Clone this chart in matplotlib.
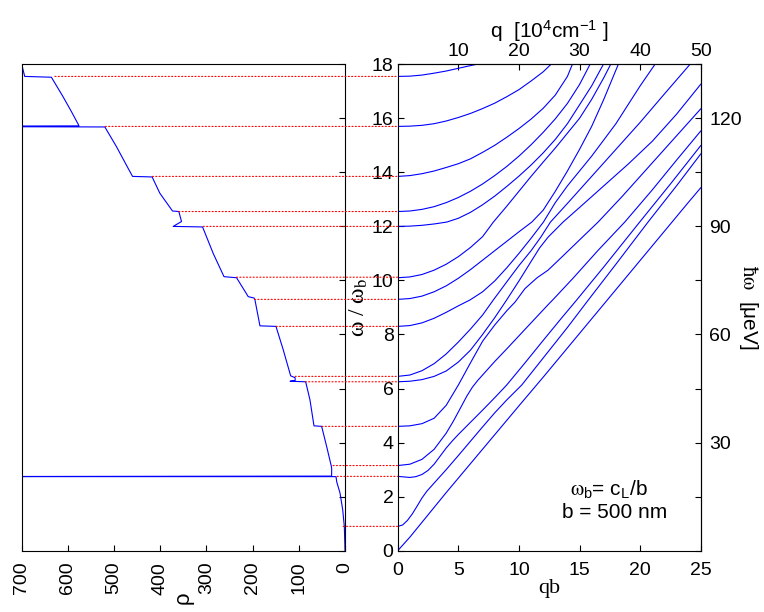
"""Lamb-type mode dispersion (right) with the matching density of states (left)."""

import matplotlib

matplotlib.use("Agg")
import matplotlib.pyplot as plt
from matplotlib.patches import ConnectionPatch

plt.rcParams["font.family"] = ["Liberation Sans", "DejaVu Sans"]
plt.rcParams["mathtext.fontset"] = "stix"
plt.rcParams["mathtext.default"] = "regular"

# --- dispersion branches, (qb, omega/omega_b) ---------------------------------
mode_a = [(0, 0), (1, 0.5), (2, 1.05), (4, 2.15), (6, 3.22), (8, 4.29), (10, 5.36),
          (12, 6.42), (14, 7.5), (16, 8.58), (18, 9.66), (20, 10.74), (22, 11.82),
          (24, 12.9), (25, 13.43)]
mode_b = [(0, 0.9), (0.4, 0.95), (0.8, 1.12), (1.2, 1.36), (1.6, 1.65), (2.0, 1.95),
          (2.4, 2.2), (2.8, 2.4), (3.4, 2.7), (4, 3.0), (5, 3.52), (6, 4.05),
          (7, 4.58), (8, 5.1), (9, 5.58), (10.23, 6.13), (12, 7.13), (14, 8.26),
          (15.73, 9.28), (18, 10.6), (20.65, 12.16), (23, 13.5), (25, 14.68)]
mode_c = [(0, 2.75), (0.5, 2.73), (1.0, 2.71), (1.5, 2.74), (2.0, 2.82), (2.5, 2.97),
          (3.0, 3.2), (3.5, 3.5), (4.0, 3.8), (4.5, 4.06), (5.0, 4.3), (6, 4.75),
          (7, 5.2), (8, 5.66), (8.99, 6.13), (10.5, 6.95), (12, 7.78), (13.5, 8.6),
          (14.77, 9.28), (17, 10.5), (19.96, 12.16), (22.5, 13.57), (25, 14.99)]
mode_d = [(0, 3.15), (1, 3.2), (2, 3.38), (3, 3.75), (4, 4.35), (4.6, 4.8),
          (5.2, 5.3), (5.7, 5.72), (6.16, 6.05), (6.6, 6.3), (7.2, 6.6), (8, 7.0),
          (9, 7.47), (10, 7.95), (11, 8.43), (12.4, 9.1), (12.79, 9.28),
          (14.5, 10.1), (16.5, 11.1), (18.73, 12.16), (21, 13.35), (23, 14.45),
          (25, 15.53)]
mode_e = [(0, 4.6), (1, 4.62), (2, 4.7), (3, 4.9), (4, 5.38), (5, 6.13), (6, 6.95),
          (7, 7.75), (8, 8.35), (9, 8.88), (9.68, 9.2), (10.5, 9.7), (11.5, 10.1),
          (12.4, 10.38), (13.5, 10.85), (15, 11.5), (16.53, 12.16), (18.5, 13.1),
          (20.5, 14.1), (22.5, 15.1), (25, 16.35)]
mode_f = [(0, 6.25), (1, 6.27), (2, 6.33), (3, 6.45), (4, 6.65), (5, 6.98), (6, 7.42),
          (7, 8.0), (8, 8.62), (8.99, 9.28), (10, 9.98), (11, 10.7), (11.7, 11.2),
          (12.4, 11.6), (13.64, 12.16), (15, 12.7), (17, 13.5), (19, 14.3),
          (21, 15.15), (23, 16.15), (25, 17.26)]
mode_g = [(0, 6.45), (1, 6.5), (2, 6.66), (3, 6.92), (4, 7.28), (5, 7.72), (6, 8.2),
          (7, 8.72), (7.89, 9.28), (9, 9.95), (10, 10.55), (11, 11.1), (11.8, 11.6),
          (12.6, 12.16), (14, 12.85), (16, 13.85), (18, 14.85), (20, 15.85),
          (22, 16.9), (24.12, 18)]
mode_h = [(0, 8.3), (1, 8.33), (2, 8.43), (3, 8.6), (4, 8.82), (5, 9.06),
          (5.97, 9.28), (7, 9.58), (8, 9.98), (9, 10.47), (10, 11.0), (11, 11.56),
          (12.02, 12.16), (13, 12.88), (14, 13.5), (15, 14.05), (16, 14.6),
          (17, 15.2), (18, 15.8), (19, 16.5), (20, 17.2), (21.23, 18)]
mode_i = [(0, 9.3), (1, 9.33), (2, 9.42), (3, 9.58), (4, 9.8), (5, 10.08),
          (6, 10.4), (7, 10.75), (8, 11.1), (9, 11.45), (10, 11.8), (11.06, 12.16),
          (12, 12.6), (13, 13.3), (14, 14.05), (15, 14.85), (16, 15.7), (17, 16.7),
          (18.2, 18)]
mode_j = [(0, 10.1), (1, 10.13), (2, 10.22), (3, 10.38), (4, 10.6), (5, 10.88),
          (6, 11.22), (7, 11.62), (7.89, 12.16), (9, 12.75), (10, 13.3), (11, 13.85),
          (12, 14.38), (13, 14.9), (14, 15.45), (15, 16.0), (16, 16.7), (17, 17.5),
          (17.57, 18)]
mode_k = [(0, 12.0), (1, 12.01), (2, 12.04), (3, 12.09), (4.04, 12.16), (5, 12.3),
          (6, 12.52), (7, 12.8), (8, 13.12), (9, 13.48), (10, 13.86), (11, 14.27),
          (12, 14.72), (13, 15.22), (14, 15.8), (15, 16.5), (16, 17.2), (16.97, 18)]
mode_l = [(0, 12.55), (1, 12.57), (2, 12.63), (3, 12.73), (4, 12.88), (5, 13.07),
          (6, 13.3), (7, 13.57), (8, 13.88), (9, 14.22), (10, 14.6), (11, 15.02),
          (12, 15.48), (13, 15.98), (14, 16.55), (15, 17.25), (15.87, 18)]
mode_m = [(0, 13.85), (1, 13.88), (2, 13.95), (3, 14.05), (4, 14.18), (5, 14.32),
          (6, 14.5), (7, 14.74), (8, 15.0), (9, 15.3), (10, 15.62), (11, 15.97),
          (12, 16.37), (13, 16.86), (14, 17.55), (14.41, 18)]
mode_n = [(0, 15.7), (1, 15.71), (2, 15.74), (3, 15.8), (4, 15.9), (5, 16.03),
          (6, 16.18), (7, 16.36), (8, 16.56), (9, 16.8), (10, 17.06), (11, 17.38),
          (12, 17.72), (12.65, 18)]
mode_o = [(0, 17.55), (1, 17.56), (2, 17.6), (3, 17.67), (4, 17.75), (5, 17.85),
          (6, 17.95), (6.52, 18)]

# --- density of states rho(omega) -------------------------------------------
rho_w = [0, 0.89, 1.51, 2.13, 2.55, 2.74, 2.74, 2.76, 3.05, 3.15, 3.85, 4.6, 4.62,
         5.58, 6.25, 6.27, 6.3, 6.4, 6.47, 7.43, 8.3, 8.32, 9.28, 9.35, 9.4, 10.1,
         10.14, 11.0, 11.98, 12.0, 12.18, 12.55, 12.57, 13.23, 13.83, 13.85, 14.15,
         14.95, 15.68, 15.7, 15.72, 15.79, 16.25, 16.8, 17.52, 17.55, 18.0]
rho_val = [0, 1.5, 5, 10.8, 18, 19.5, 1000, 29, 28.9, 30, 39.7, 50.6, 67.2,
           75.9, 85.2, 119, 108, 108, 117.7, 133.7, 149.5, 184.2, 195, 197, 209.5,
           234.8, 262, 285.4, 308.4, 372, 354, 359.8, 373.5, 401, 417.6, 460, 469.6,
           494.8, 520, 1000, 576, 578, 592.4, 610.5, 635.7, 693.5, 700]

# band-edge frequencies and the rho value where each dotted guide starts
cutoff_w = [0.9, 2.75, 3.15, 4.6, 6.25, 6.45, 8.3, 9.3, 10.12, 12.0, 12.55, 13.85,
            15.7, 17.55]
cutoff_rho = [4, 17, 26, 50, 86, 108, 149, 196, 235, 307, 360, 417, 519, 628]

q_ticks = [10, 20, 30, 40, 50]           # q [10^4 cm^-1] = 2 qb
energy_ticks = [30, 60, 90, 120]         # hbar*omega [ueV] = 7.5 omega/omega_b

BLUE = "#0000ff"
RED = "#ff0000"
TICK_FS = 14

fig = plt.figure(figsize=(7.64, 6.12), dpi=100)
ax_rho = fig.add_axes([0.0284, 0.1002, 0.4232, 0.7948])
ax = fig.add_axes([0.5206, 0.1002, 0.3966, 0.7948])

# left: density of states, rho axis running right-to-left
ax_rho.plot(rho_val, rho_w, color=BLUE, lw=0.8)
ax_rho.set_xlim(700, 0)
ax_rho.set_ylim(0, 18)
ax_rho.set_xticks(range(0, 701, 100))
ax_rho.tick_params(axis="x", direction="in", length=4, labelsize=TICK_FS,
                   labelrotation=90, pad=8, top=False)
ax_rho.set_yticks(range(0, 19, 2))
ax_rho.tick_params(axis="y", direction="in", length=4, left=False, right=True,
                   labelleft=False, labelright=False)
ax_rho.set_xlabel("ρ", rotation=90, fontsize=16, labelpad=-2)

# right: dispersion branches
for mode in (mode_a, mode_b, mode_c, mode_d, mode_e, mode_f, mode_g, mode_h,
             mode_i, mode_j, mode_k, mode_l, mode_m, mode_n, mode_o):
    qs, ws = zip(*mode)
    ax.plot(qs, ws, color=BLUE, lw=0.8)
ax.set_xlim(0, 25)
ax.set_ylim(0, 18)
ax.set_xticks(range(0, 26, 5))
ax.set_yticks(range(0, 19, 2))
ax.tick_params(direction="in", length=4, labelsize=TICK_FS, top=True, right=True)
ax.tick_params(axis="x", pad=8)
ax.tick_params(axis="y", pad=3)
ax.set_xlabel("qb", family="Liberation Serif", fontsize=16, labelpad=0)
ax.set_ylabel(r"ω / ω$_{\rm b}$", family="Liberation Serif", fontsize=17,
              labelpad=1)

top = ax.secondary_xaxis("top", functions=(lambda x: 2 * x, lambda q: q / 2))
top.set_xticks(q_ticks)
top.tick_params(direction="in", length=0, labelsize=TICK_FS, pad=3)
top.set_xlabel("q  [10$^4$cm$^{-1}$ ]", fontsize=15, labelpad=4)

right = ax.secondary_yaxis("right", functions=(lambda w: 7.5 * w, lambda e: e / 7.5))
right.set_yticks(energy_ticks)
right.tick_params(direction="in", length=0, labelsize=TICK_FS, pad=6)
right.set_ylabel(r"$\mathrm{\hbar\omega}$  [μeV]", rotation=270, fontsize=15,
                 labelpad=13)

ax.text(17.4, 2.25, r"$\mathrm{\omega}_b$= c$_L$/b", ha="center", va="center",
        fontsize=15)
ax.text(17.9, 1.4, "b = 500 nm", ha="center", va="center", fontsize=15)

# dotted guides from each band edge in rho across to the dispersion panel
for w, r in zip(cutoff_w, cutoff_rho):
    fig.add_artist(ConnectionPatch(xyA=(r, w), coordsA=ax_rho.transData,
                                   xyB=(0, w), coordsB=ax.transData,
                                   color=RED, lw=0.8, linestyle=(0, (1, 2))))

fig.savefig("out.png", dpi=100)
